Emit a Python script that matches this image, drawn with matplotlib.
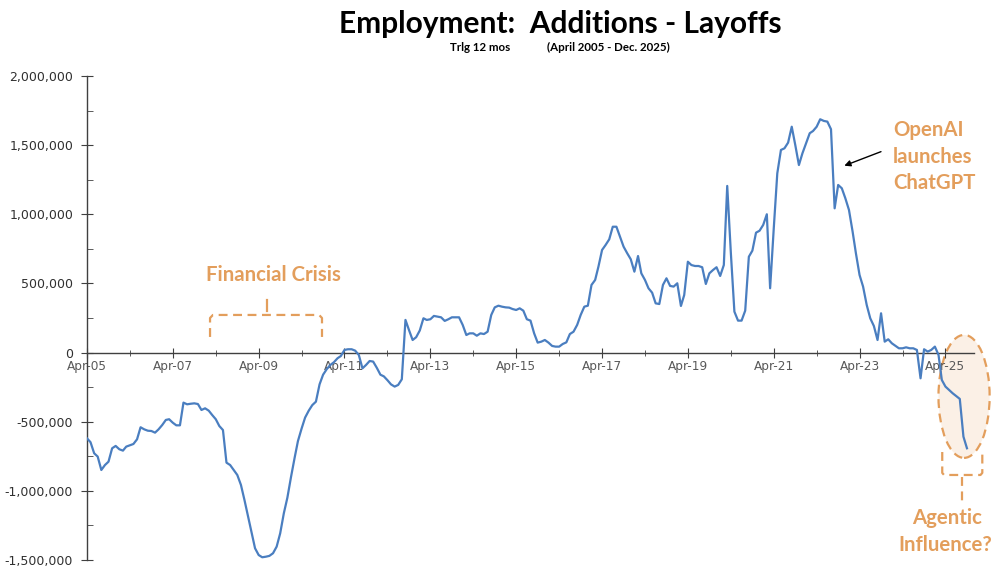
import numpy as np
import pandas as pd
import matplotlib
matplotlib.use("Agg")
import matplotlib.pyplot as plt
import matplotlib.dates as mdates
from matplotlib.patches import Ellipse
from matplotlib.ticker import FixedLocator, FuncFormatter, MultipleLocator

# Trailing 12-month additions minus layoffs, thousands, monthly from Apr 2005
net_k = [
    -620, -648, -728, -752, -849, -813, -789, -692, -675, -699,
    -709, -680, -670, -661, -627, -540, -555, -565, -567, -579,
    -555, -524, -487, -482, -507, -526, -526, -362, -374, -370,
    -367, -372, -415, -403, -420, -451, -482, -531, -560, -796,
    -813, -849, -885, -957, -1066, -1187, -1307, -1415, -1464, -1480,
    -1476, -1470, -1451, -1403, -1307, -1162, -1050, -900, -760, -640,
    -550, -470, -420, -380, -355, -230, -160, -120, -90, -70,
    -41, -25, 19, 24, 24, 14, -17, -114, -90, -61,
    -65, -110, -160, -172, -200, -230, -246, -234, -193, 236,
    163, 91, 111, 160, 248, 236, 241, 265, 260, 255,
    229, 241, 255, 255, 255, 200, 127, 139, 139, 122,
    139, 134, 151, 272, 327, 339, 332, 327, 325, 315,
    308, 320, 303, 241, 231, 139, 72, 79, 91, 72,
    48, 43, 43, 62, 74, 134, 151, 200, 272, 332,
    339, 489, 525, 621, 742, 778, 819, 910, 910, 838,
    766, 718, 675, 585, 698, 573, 525, 465, 433, 356,
    351, 489, 537, 482, 477, 501, 337, 416, 657, 633,
    626, 626, 617, 496, 573, 597, 617, 554, 633, 1205,
    718, 296, 231, 231, 303, 693, 737, 867, 881, 923,
    1000, 465, 899, 1296, 1465, 1477, 1518, 1633, 1501, 1356,
    1441, 1513, 1586, 1602, 1633, 1687, 1675, 1670, 1615, 1043,
    1212, 1188, 1116, 1031, 874, 718, 561, 477, 344, 248,
    192, 91, 284, 79, 96, 67, 48, 31, 31, 38,
    31, 31, 19, -186, 24, 7, 19, 43, -17, -198,
    -246, -270, -294, -314, -335, -608, -692,
]
start_date = "2005-04-01"
end_date = "2025-12-01"
tick_labels = ["Apr-05", "Apr-07", "Apr-09", "Apr-11", "Apr-13", "Apr-15",
               "Apr-17", "Apr-19", "Apr-21", "Apr-23", "Apr-25"]
y_ticks = [-1500000, -1000000, -500000, 0, 500000, 1000000, 1500000, 2000000]

dates = pd.date_range(start_date, periods=len(net_k), freq="MS")
values = np.array(net_k) * 1000

ORANGE = "#E39E5C"
BLUE = "#4A7EC0"
TXT_FONT = ["Lato", "DejaVu Sans"]

fig = plt.figure(figsize=(9.93, 5.67), dpi=100)
ax = fig.add_axes([0.0876, 0.0123, 0.981 - 0.0876, 0.866 - 0.0123])

ax.plot(dates, values, color=BLUE, lw=1.6, zorder=3)

t0 = mdates.date2num(pd.Timestamp(start_date))
def X(m):
    return t0 + m * 30.4375

ax.set_xlim(t0, mdates.date2num(pd.Timestamp(end_date)))
ax.set_ylim(-1500000, 2000000)

major = [mdates.date2num(pd.Timestamp(2005 + 2 * i, 4, 1)) for i in range(len(tick_labels))]
minor = [mdates.date2num(pd.Timestamp(2006 + 2 * i, 4, 1)) for i in range(10)]
ax.xaxis.set_major_locator(FixedLocator(major))
ax.xaxis.set_minor_locator(FixedLocator(minor))
ax.set_xticklabels(tick_labels)
ax.set_yticks(y_ticks)
ax.yaxis.set_minor_locator(MultipleLocator(250000))
ax.yaxis.set_major_formatter(FuncFormatter(lambda v, p: f"{v:,.0f}"))

for s in ["top", "right"]:
    ax.spines[s].set_visible(False)
ax.spines["bottom"].set_position(("data", 0))
ax.spines["bottom"].set_color("#404040")
ax.spines["left"].set_color("#404040")
ax.spines["bottom"].set_linewidth(1.0)
ax.spines["left"].set_linewidth(1.0)

ax.tick_params(axis="x", which="major", direction="inout", length=7, color="#404040",
               labelsize=8.7, labelcolor="#595959", pad=2)
ax.tick_params(axis="x", which="minor", direction="inout", length=4, color="#404040")
ax.tick_params(axis="y", which="major", direction="inout", length=8, color="#404040",
               labelsize=9, labelcolor="#303030", pad=6)
ax.tick_params(axis="y", which="minor", direction="in", length=4, color="#404040")

# Titles
fig.text(0.5645, 0.958, "Employment:  Additions - Layoffs", ha="center", va="center",
         fontsize=21.5, fontweight="bold", family=TXT_FONT)
fig.text(0.484, 0.917, "Trlg 12 mos", ha="center", va="center",
         fontsize=8.3, fontweight="bold", family=TXT_FONT)
fig.text(0.613, 0.917, "(April 2005 - Dec. 2025)", ha="center", va="center",
         fontsize=8.3, fontweight="bold", family=TXT_FONT)

dash = (0, (4, 2.5))
ANN_FS = 14.7

# Financial crisis annotation
ax.text(X(52.0), 561000, "Financial Crisis", ha="center", va="center", color=ORANGE,
        fontsize=ANN_FS, fontweight="bold", family=TXT_FONT)
ax.plot([X(34.4), X(34.4), X(35.2), X(64.9), X(65.7), X(65.7)],
        [113000, 250000, 272000, 272000, 250000, 113000],
        color=ORANGE, lw=1.6, ls=dash, zorder=2)
ax.plot([X(50.3), X(50.3)], [300000, 380000], color=ORANGE, lw=1.6, zorder=2)

# OpenAI annotation
for txt, yv in [("OpenAI", 1609000), ("launches", 1414000), ("ChatGPT", 1226000)]:
    ax.text(X(225.3), yv, txt, ha="left", va="center", color=ORANGE,
            fontsize=ANN_FS, fontweight="bold", family=TXT_FONT, clip_on=False)
ax.annotate("", xy=(X(211.0), 1344000), xytext=(X(222.7), 1460000),
            arrowprops=dict(arrowstyle="-|>", color="black", lw=1.0, mutation_scale=9))

# Agentic influence annotation
ell = Ellipse((X(245.2), -317000), width=14.3 * 30.4375, height=889000,
              facecolor="#FBF0E6", edgecolor=ORANGE, lw=1.6, ls=dash, zorder=1,
              clip_on=False)
ax.add_patch(ell)
ax.plot([X(239.1), X(239.1), X(239.6), X(249.8), X(250.3), X(250.3)],
        [-719000, -870000, -885000, -885000, -870000, -719000],
        color=ORANGE, lw=1.6, ls=dash, zorder=2, clip_on=False)
ax.plot([X(244.7), X(244.7)], [-900000, -1080000], color=ORANGE, lw=1.6, ls=dash,
        zorder=2, clip_on=False)
ax.text(X(240.5), -1196000, "Agentic", ha="center", va="center", color=ORANGE,
        fontsize=ANN_FS, fontweight="bold", family=TXT_FONT, clip_on=False)
ax.text(X(240.0), -1391000, "Influence?", ha="center", va="center", color=ORANGE,
        fontsize=ANN_FS, fontweight="bold", family=TXT_FONT, clip_on=False)

fig.savefig("out.png", dpi=100, facecolor="white")
